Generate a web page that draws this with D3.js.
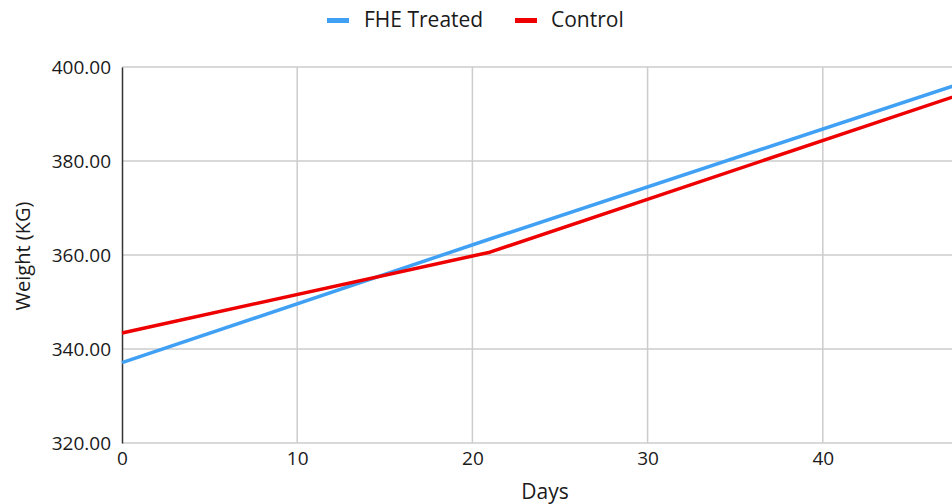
<!DOCTYPE html>
<html>
<head>
<meta charset="utf-8">
<script src="https://cdn.jsdelivr.net/npm/d3@7"></script>
<style>
  body { margin: 0; background: #fff; }
  text { font-family: "Open Sans", sans-serif; fill: #1a1a1a; }
</style>
</head>
<body>
<svg id="chart" width="952" height="504"></svg>
<script>
// data
const days = [0, 21, 49];
const fheTreated = [337.1, 363.4, 397.9];
const control = [343.4, 360.6, 395.6];
const seriesNames = ["FHE Treated", "Control"];
const seriesColors = ["#40a0f4", "#ee0000"];
const xTicks = [0, 10, 20, 30, 40];
const yTicks = [320, 340, 360, 380, 400];

const svg = d3.select("#chart");
const W = 952, H = 504;
const plotLeft = 122, plotTop = 67, plotBottom = 443;

let xscale = d3.scaleLinear()
            .domain([0, 10])
            .range([plotLeft, plotLeft + 175.2]);

let yscale = d3.scaleLinear()
            .domain([320, 400])
            .range([plotBottom, plotTop]);

const plotRight = W + 5;

function main() {
    drawGrid();
    drawAxes();
    drawLines();
    drawLegend();
}

function drawGrid() {
    const g = svg.append("g");
    g.selectAll(".hgrid").data(yTicks).join("line")
        .attr("class", "hgrid")
        .attr("x1", plotLeft).attr("x2", plotRight)
        .attr("y1", d => yscale(d)).attr("y2", d => yscale(d))
        .attr("stroke", "#cccccc")
        .attr("stroke-width", 1.5);
    g.selectAll(".vgrid").data(xTicks.filter(d => d > 0)).join("line")
        .attr("class", "vgrid")
        .attr("x1", d => xscale(d)).attr("x2", d => xscale(d))
        .attr("y1", plotTop).attr("y2", plotBottom)
        .attr("stroke", "#cccccc")
        .attr("stroke-width", 1.5);
}

function drawAxes() {
    // y axis
    const yAxis = d3.axisLeft(yscale)
        .tickValues(yTicks)
        .tickSize(0)
        .tickPadding(11)
        .tickFormat(d3.format(".2f"));
    const gy = svg.append("g")
        .attr("transform", `translate(${plotLeft},0)`)
        .call(yAxis);
    gy.select(".domain").attr("stroke", "#333").attr("stroke-width", 1.5);
    gy.selectAll("text").style("font-size", "19px").attr("fill", "#1a1a1a");

    // x axis
    const xAxis = d3.axisBottom(xscale)
        .tickValues(xTicks)
        .tickSize(0)
        .tickPadding(9)
        .tickFormat(d3.format("d"));
    const gx = svg.append("g")
        .attr("transform", `translate(0,${plotBottom})`)
        .call(xAxis);
    gx.select(".domain").remove();
    gx.selectAll("text").style("font-size", "19px").attr("fill", "#1a1a1a");

    svg.append("text")
        .attr("x", 545)
        .attr("y", 499)
        .attr("text-anchor", "middle")
        .style("font-size", "21px")
        .text("Days");

    svg.append("text")
        .attr("transform", "translate(30,256) rotate(-90)")
        .attr("text-anchor", "middle")
        .style("font-size", "20px")
        .text("Weight (KG)");
}

function drawLines() {
    const series = [fheTreated, control];
    const line = d3.line()
        .x((d, i) => xscale(days[i]))
        .y(d => yscale(d));
    svg.selectAll(".series").data(series).join("path")
        .attr("class", "series")
        .attr("fill", "none")
        .attr("stroke", (d, i) => seriesColors[i])
        .attr("stroke-width", 3.5)
        .attr("stroke-linejoin", "round")
        .attr("d", line);
}

function drawLegend() {
    const pos = [{sx: 327, tx: 364}, {sx: 515, tx: 551}];
    const g = svg.append("g");
    g.selectAll(".swatch").data(seriesNames).join("rect")
        .attr("class", "swatch")
        .attr("x", (d, i) => pos[i].sx)
        .attr("y", 18)
        .attr("width", 22)
        .attr("height", 5)
        .attr("fill", (d, i) => seriesColors[i]);
    g.selectAll(".label").data(seriesNames).join("text")
        .attr("class", "label")
        .attr("x", (d, i) => pos[i].tx)
        .attr("y", 27)
        .style("font-size", "21px")
        .text(d => d);
}

main();
</script>
</body>
</html>
